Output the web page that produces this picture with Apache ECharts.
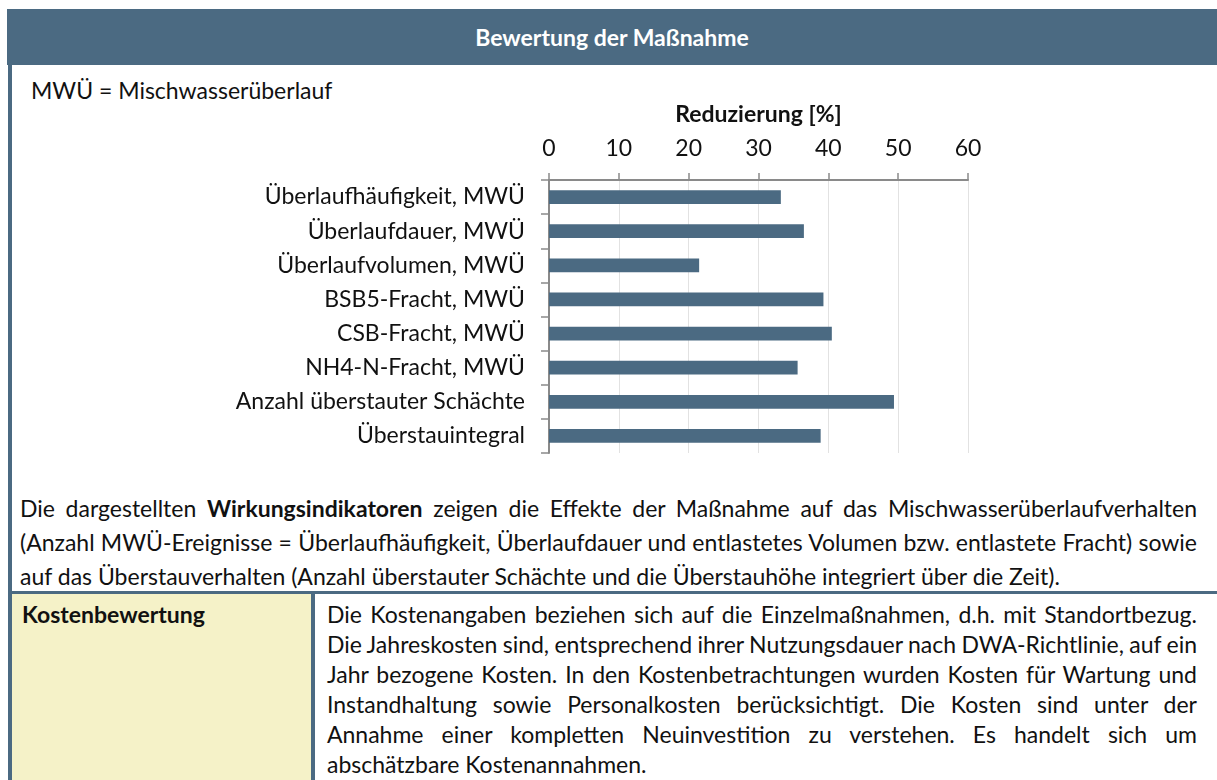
<!DOCTYPE html>
<html>
<head>
<meta charset="utf-8">
<script src="https://cdn.jsdelivr.net/npm/echarts@6/dist/echarts.min.js"></script>
<style>
  html, body { margin: 0; padding: 0; width: 1217px; height: 780px; overflow: hidden; background: #fff; }
  body { font-family: Lato, "Open Sans", sans-serif; color: #111; position: relative; }
  #header { position: absolute; left: 7px; top: 9px; width: 1210px; height: 56px; background: #4b6a82;
            color: #fff; font-weight: bold; font-size: 23px; text-align: center; line-height: 56px; }
  #leftBorder { position: absolute; left: 8px; top: 65px; width: 4px; height: 715px; background: #4b6a82; }
  #abbr { position: absolute; left: 31px; top: 76px; font-size: 23px; line-height: 28px; }
  #chart { position: absolute; left: 0; top: 0; width: 1217px; height: 480px; }
  #para { position: absolute; left: 20px; width: 1177px; top: 491px; font-size: 23px; line-height: 34px; }
  #rule { position: absolute; left: 8px; top: 591px; width: 1209px; height: 3px; background: #4b6a82; }
  #costCell { position: absolute; left: 12px; top: 594px; width: 299px; height: 186px; background: #f5f2c8; }
  #costLabel { position: absolute; left: 22px; top: 600px; font-size: 23px; font-weight: bold; line-height: 28px; }
  #divider { position: absolute; left: 311px; top: 594px; width: 4px; height: 186px; background: #4b6a82; }
  #costText { position: absolute; left: 327px; width: 870px; top: 599px; font-size: 23px; line-height: 30px; }
  .row { white-space: nowrap; }
</style>
</head>
<body>
<div id="header"></div>
<div id="leftBorder"></div>
<div id="abbr"></div>
<div id="chart"></div>
<div id="para"></div>
<div id="rule"></div>
<div id="costCell"></div>
<div id="costLabel"></div>
<div id="divider"></div>
<div id="costText"></div>
<script>
// Indicators and their reduction in percent
const categories = [
  'Überlaufhäufigkeit, MWÜ',
  'Überlaufdauer, MWÜ',
  'Überlaufvolumen, MWÜ',
  'BSB5-Fracht, MWÜ',
  'CSB-Fracht, MWÜ',
  'NH4-N-Fracht, MWÜ',
  'Anzahl überstauter Schächte',
  'Überstauintegral'
];
const reduction = [33.2, 36.5, 21.5, 39.3, 40.5, 35.6, 49.4, 38.9];
const axisMin = 0;
const axisMax = 60;
const axisStep = 10;

const titleText = 'Bewertung der Maßnahme';
const abbrText = 'MWÜ = Mischwasserüberlauf';
const axisTitle = 'Reduzierung [%]';

// Explanatory paragraph, one entry per printed line
const paraLines = [
  'Die dargestellten <b>Wirkungsindikatoren</b> zeigen die Effekte der Maßnahme auf das Mischwasserüberlaufverhalten',
  '(Anzahl MWÜ-Ereignisse = Überlaufhäufigkeit, Überlaufdauer und entlastetes Volumen bzw. entlastete Fracht) sowie',
  'auf das Überstauverhalten (Anzahl überstauter Schächte und die Überstauhöhe integriert über die Zeit).'
];
const costLabel = 'Kostenbewertung';
const costLines = [
  'Die Kostenangaben beziehen sich auf die Einzelmaßnahmen, d.h. mit Standortbezug.',
  'Die Jahreskosten sind, entsprechend ihrer Nutzungsdauer nach DWA-Richtlinie, auf ein',
  'Jahr bezogene Kosten. In den Kostenbetrachtungen wurden Kosten für Wartung und',
  'Instandhaltung sowie Personalkosten berücksichtigt. Die Kosten sind unter der',
  'Annahme einer kompletten Neuinvestition zu verstehen. Es handelt sich um',
  'abschätzbare Kostenannahmen.'
];

// Justify every line but the last by spreading the word gaps to fill the block width
function justifyLines(el, lines, width) {
  el.innerHTML = '';
  lines.forEach((t, i) => {
    const row = document.createElement('div');
    row.className = 'row';
    const span = document.createElement('span');
    span.innerHTML = t;
    row.appendChild(span);
    el.appendChild(row);
    if (i < lines.length - 1) {
      const w = span.getBoundingClientRect().width;
      const gaps = (span.textContent.match(/ /g) || []).length;
      if (gaps) span.style.wordSpacing = ((width - w) / gaps) + 'px';
    }
  });
}
document.getElementById('header').textContent = titleText;
document.getElementById('abbr').textContent = abbrText;
document.getElementById('costLabel').textContent = costLabel;
justifyLines(document.getElementById('para'), paraLines, 1177);
justifyLines(document.getElementById('costText'), costLines, 870);

const FONT = 'Lato, "Open Sans", sans-serif';
const AXIS_GRAY = '#8a8a8a';
const BAR_BLUE = '#4b6a82';

const chart = echarts.init(document.getElementById('chart'), null, { renderer: 'canvas' });
chart.setOption({
  animation: false,
  textStyle: { fontFamily: FONT },
  grid: { left: 549, top: 180, width: 419, height: 273, containLabel: false },
  xAxis: {
    type: 'value',
    position: 'top',
    min: axisMin,
    max: axisMax,
    interval: axisStep,
    name: axisTitle,
    nameLocation: 'middle',
    nameGap: 54,
    nameTextStyle: { fontFamily: FONT, fontSize: 23, fontWeight: 'bold', color: '#111' },
    axisLine: { show: true, lineStyle: { color: AXIS_GRAY, width: 2 } },
    axisTick: { show: true, length: 7, lineStyle: { color: AXIS_GRAY, width: 1.5 } },
    axisLabel: { fontFamily: FONT, fontSize: 23, color: '#111', margin: 20 },
    splitLine: { show: true, lineStyle: { color: '#e2e2e2', width: 1 } }
  },
  yAxis: {
    type: 'category',
    inverse: true,
    data: categories,
    axisLine: { show: true, lineStyle: { color: AXIS_GRAY, width: 2 } },
    axisTick: { show: true, length: 8, lineStyle: { color: AXIS_GRAY, width: 1.5 } },
    axisLabel: { fontFamily: FONT, fontSize: 23, color: '#111', margin: 24 },
    splitLine: { show: false }
  },
  series: [{
    type: 'bar',
    data: reduction,
    barWidth: '40%',
    itemStyle: { color: BAR_BLUE }
  }]
});
</script>
</body>
</html>
